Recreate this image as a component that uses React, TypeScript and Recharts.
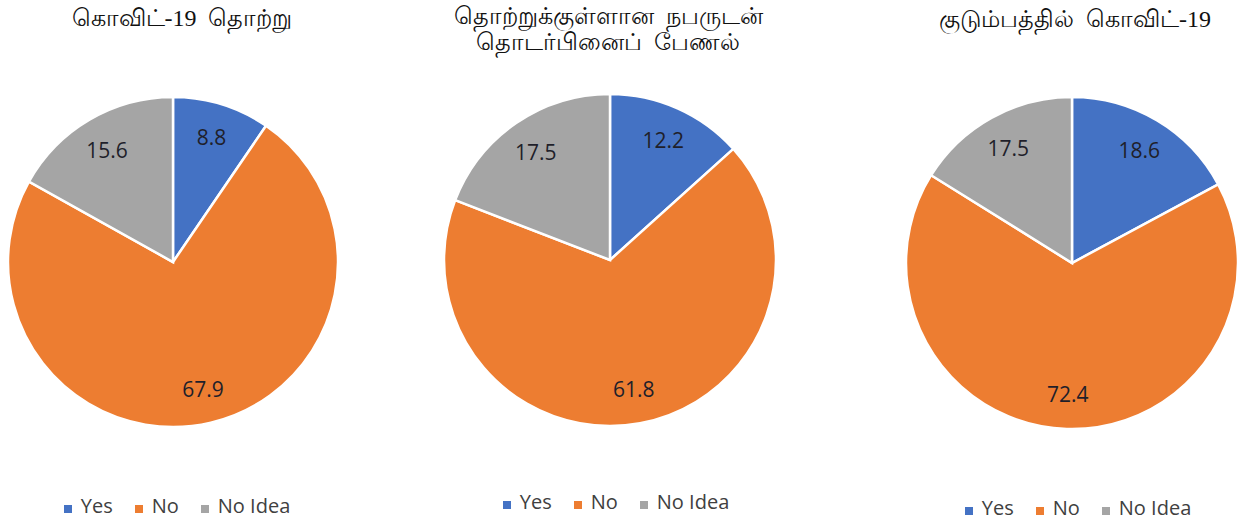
import { Cell, Legend, Pie, PieChart } from "recharts";

const categories = ["Yes", "No", "No Idea"];
const colors = ["#4472C4", "#ED7D31", "#A5A5A5"];

const infectionValues = [8.8, 67.9, 15.6];
const contactValues = [12.2, 61.8, 17.5];
const familyValues = [18.6, 72.4, 17.5];

const titles = [
  ["கொவிட்-19  தொற்று"],
  ["தொற்றுக்குள்ளான  நபருடன்", "தொடர்பினைப்  பேணல்"],
  ["குடும்பத்தில்  கொவிட்-19"],
];

const RADIAN = Math.PI / 180;

type LabelProps = {
  cx: number;
  cy: number;
  midAngle: number;
  outerRadius: number;
  value: number;
};

function SliceLabel({ cx, cy, midAngle, outerRadius, value }: LabelProps) {
  const r = outerRadius * 0.79;
  const x = cx + r * Math.cos(-midAngle * RADIAN);
  const y = cy + r * Math.sin(-midAngle * RADIAN);
  return (
    <text
      x={x}
      y={y}
      fill="#1f1f2a"
      fontSize={21}
      fontFamily="'Open Sans', sans-serif"
      textAnchor="middle"
      dominantBaseline="central"
    >
      {value.toFixed(1)}
    </text>
  );
}

type ChartProps = {
  values: number[];
  title: string[];
  left: number;
  width: number;
  cx: number;
  cy: number;
  radius: number;
  titleTop: number;
  titleCenter: number;
  legendTop: number;
  legendCenter: number;
};

function SurveyPie({
  values,
  title,
  left,
  width,
  cx,
  cy,
  radius,
  titleTop,
  titleCenter,
  legendTop,
  legendCenter,
}: ChartProps) {
  const data = categories.map((name, i) => ({ name, value: values[i] }));
  const legendWidth = 320;
  return (
    <div style={{ position: "absolute", left, top: 0, width, height: 525 }}>
      <div
        style={{
          position: "absolute",
          left: titleCenter - 200,
          top: titleTop,
          width: 400,
          textAlign: "center",
          fontFamily: "'Liberation Serif', serif",
          fontSize: 24,
          lineHeight: "26px",
          color: "#111",
          whiteSpace: "pre",
        }}
      >
        {title.map((line) => (
          <div key={line}>{line}</div>
        ))}
      </div>
      <PieChart width={width} height={525} margin={{ top: 0, right: 0, bottom: 0, left: 0 }}>
        <Pie
          data={data}
          dataKey="value"
          nameKey="name"
          cx={cx}
          cy={cy}
          outerRadius={radius}
          startAngle={90}
          endAngle={-270}
          stroke="#ffffff"
          strokeWidth={2.5}
          labelLine={false}
          label={SliceLabel}
          isAnimationActive={false}
        >
          {data.map((d, i) => (
            <Cell key={d.name} fill={colors[i]} />
          ))}
        </Pie>
        <Legend
          iconType="square"
          iconSize={8}
          align="center"
          verticalAlign="bottom"
          itemSorter={(item: { value: string }) => categories.indexOf(item.value)}
          wrapperStyle={{
            top: legendTop,
            bottom: "auto",
            left: legendCenter - legendWidth / 2,
            width: legendWidth,
          }}
          formatter={(value) => (
            <span
              style={{
                color: "#404040",
                fontSize: 20,
                fontFamily: "'Open Sans', sans-serif",
                marginLeft: 5,
                marginRight: 12,
              }}
            >
              {value}
            </span>
          )}
        />
      </PieChart>
    </div>
  );
}

export default function App() {
  return (
    <div
      style={{
        position: "absolute",
        left: 0,
        top: 0,
        width: 1241,
        height: 525,
        overflow: "hidden",
        background: "#fff",
      }}
    >
      <SurveyPie
        values={infectionValues}
        title={titles[0]}
        left={0}
        width={380}
        cx={173}
        cy={262}
        radius={165}
        titleTop={5}
        titleCenter={182}
        legendTop={492}
        legendCenter={188}
      />
      <SurveyPie
        values={contactValues}
        title={titles[1]}
        left={420}
        width={400}
        cx={190}
        cy={260}
        radius={166}
        titleTop={3}
        titleCenter={188}
        legendTop={488}
        legendCenter={207}
      />
      <SurveyPie
        values={familyValues}
        title={titles[2]}
        left={877}
        width={364}
        cx={195}
        cy={263}
        radius={166}
        titleTop={6}
        titleCenter={198}
        legendTop={494}
        legendCenter={212}
      />
    </div>
  );
}
